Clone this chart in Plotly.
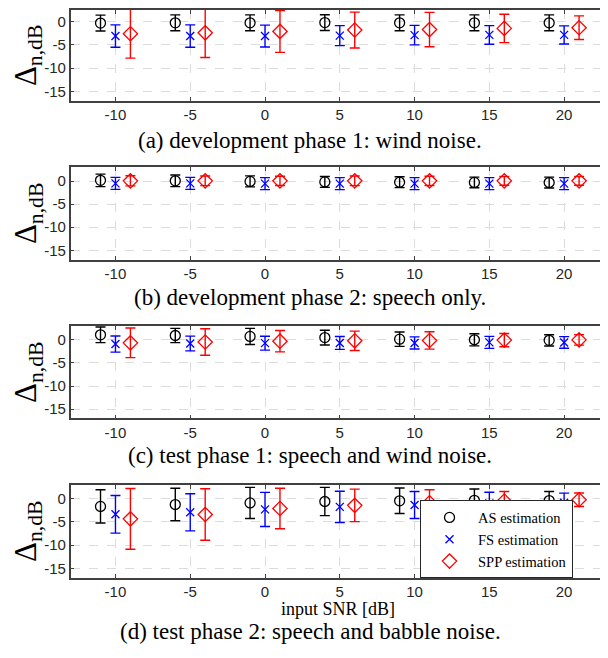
import plotly.graph_objects as go

# ---------------- data ----------------
snr = [-10, -5, 0, 5, 10, 15, 20]
x_tick_labels = ["-10", "-5", "0", "5", "10", "15", "20"]
y_tick_vals = [-15, -10, -5, 0]
y_tick_labels = ["-15", "-10", "-5", "0"]

series_names = ["AS estimation", "FS estimation", "SPP estimation"]
captions = [
    "(a) development phase 1: wind noise.",
    "(b) development phase 2: speech only.",
    "(c) test phase 1: speech and wind noise.",
    "(d) test phase 2: speech and babble noise.",
]

# panel (a)
a_as_mean = [-0.3, -0.25, -0.25, -0.2, -0.25, -0.25, -0.25]
a_as_std = [1.7, 1.7, 1.7, 1.7, 1.7, 1.7, 1.7]
a_fs_mean = [-3.1, -3.1, -3.1, -3.0, -2.9, -2.85, -2.85]
a_fs_std = [2.4, 2.4, 2.35, 2.15, 2.1, 2.0, 1.95]
a_spp_mean = [-2.6, -2.4, -2.1, -1.8, -1.7, -1.45, -1.3]
a_spp_std = [5.25, 5.3, 4.5, 3.85, 3.7, 3.05, 2.55]

# panel (b)
b_as_mean = [0.15, 0.05, -0.07, -0.18, -0.25, -0.3, -0.32]
b_as_std = [1.35, 1.25, 1.2, 1.18, 1.18, 1.15, 1.18]
b_fs_mean = [-0.5, -0.5, -0.55, -0.55, -0.55, -0.55, -0.55]
b_fs_std = [1.3, 1.3, 1.3, 1.3, 1.3, 1.3, 1.3]
b_spp_mean = [0.05, 0.05, 0.05, 0.05, 0.05, 0.05, 0.05]
b_spp_std = [1.1, 1.05, 1.0, 1.05, 1.0, 0.95, 0.95]

# panel (c)
c_as_mean = [1.1, 0.95, 0.75, 0.5, 0.15, 0.02, -0.1]
c_as_std = [1.7, 1.55, 1.75, 1.6, 1.55, 1.32, 1.21]
c_fs_mean = [-0.9, -0.78, -0.71, -0.66, -0.66, -0.54, -0.55]
c_fs_std = [1.75, 1.6, 1.5, 1.39, 1.32, 1.29, 1.25]
c_spp_mean = [-0.64, -0.45, -0.28, -0.2, -0.12, -0.05, 0.0]
c_spp_std = [3.2, 2.86, 2.32, 2.1, 1.89, 1.43, 1.14]

# panel (d)
d_as_mean = [-1.65, -1.25, -0.9, -0.6, -0.45, -0.35, -0.4]
d_as_std = [3.6, 3.5, 3.35, 3.05, 2.75, 2.45, 1.95]
d_fs_mean = [-3.36, -2.93, -2.3, -1.75, -1.35, -1.0, -0.86]
d_fs_std = [4.05, 4.0, 3.68, 3.36, 2.9, 2.4, 2.07]
d_spp_mean = [-4.34, -3.4, -2.1, -1.43, -0.86, -0.5, -0.22]
d_spp_std = [6.55, 5.57, 4.36, 3.5, 2.8, 2.07, 1.46]

panels = [
    [(a_as_mean, a_as_std), (a_fs_mean, a_fs_std), (a_spp_mean, a_spp_std)],
    [(b_as_mean, b_as_std), (b_fs_mean, b_fs_std), (b_spp_mean, b_spp_std)],
    [(c_as_mean, c_as_std), (c_fs_mean, c_fs_std), (c_spp_mean, c_spp_std)],
    [(d_as_mean, d_as_std), (d_fs_mean, d_fs_std), (d_spp_mean, d_spp_std)],
]

# ---------------- styling ----------------
OFF = 8  # page body margin of the exported html
W, H = 608 - OFF, 658 - OFF
colors = ["#000000", "#0000ff", "#ff0000"]
symbols = ["circle-open", "x-thin-open", "diamond-open"]
msizes = [10, 8, 11]
x_offsets = [-1, 0, 1]

# panel pixel boxes in the page (top, bottom)
panel_px = [(5.7, 99.0), (165.7, 258.3), (325.0, 417.7), (484.3, 577.3)]
caption_y = [139, 296, 455, 631]
x_left_px, x_right_px = 70.7, 607.0
y_lo, y_hi = -17, 3


def px_x(v):
    return (v - OFF) / W


def px_y(v):
    return 1 - (v - OFF) / H


serif = "Liberation Serif, Times New Roman, serif"
sans = "Liberation Sans, Arial, Helvetica, sans-serif"
axis_col = "#404040"
grid_col = "#dcdcdc"

fig = go.Figure()

for p, series in enumerate(panels):
    xa = "x" if p == 0 else f"x{p+1}"
    ya = "y" if p == 0 else f"y{p+1}"
    for s, (mean, std) in enumerate(series):
        fig.add_trace(go.Scatter(
            x=[v + x_offsets[s] for v in snr],
            y=mean,
            mode="markers",
            name=series_names[s],
            showlegend=(p == 3),
            marker=dict(symbol=symbols[s], size=msizes[s], color=colors[s],
                        line=dict(color=colors[s], width=1.3)),
            error_y=dict(type="data", array=std, visible=True,
                         color=colors[s], thickness=1.4, width=5),
            xaxis=xa, yaxis=ya,
        ))

layout = dict(
    width=W, height=H,
    margin=dict(l=0, r=0, t=0, b=0),
    paper_bgcolor="white", plot_bgcolor="white",
    showlegend=True,
    legend=dict(
        x=px_x(420.7), y=px_y(500), xanchor="left", yanchor="top",
        bgcolor="white", bordercolor="#262626", borderwidth=1,
        font=dict(family=serif, size=14.5, color="#000000"),
        itemwidth=47, tracegroupgap=0,
    ),
)

annotations = []
for p in range(4):
    top, bot = panel_px[p]
    hi = y_hi
    if top < OFF:  # clip to the visible page, keep the data scale
        per_px = (y_hi - y_lo) / (bot - top)
        hi = y_hi - (OFF - top) * per_px
        top = OFF
    xkey = "xaxis" if p == 0 else f"xaxis{p+1}"
    ykey = "yaxis" if p == 0 else f"yaxis{p+1}"
    anchor_x = "x" if p == 0 else f"x{p+1}"
    anchor_y = "y" if p == 0 else f"y{p+1}"
    layout[xkey] = dict(
        domain=[px_x(x_left_px), px_x(x_right_px)],
        range=[-13, 22.8],
        anchor=anchor_y,
        tickvals=snr, ticktext=x_tick_labels,
        tickfont=dict(family=sans, size=15, color="#262626"),
        ticks="inside", ticklen=4, tickcolor=axis_col,
        showline=True, linecolor=axis_col, linewidth=1.5, mirror="ticks",
        showgrid=True, gridcolor=grid_col, griddash="dash", gridwidth=1,
        zeroline=False,
    )
    layout[ykey] = dict(
        domain=[max(0.0, px_y(bot)), min(1.0, px_y(top))],
        range=[y_lo, hi],
        anchor=anchor_x,
        tickvals=y_tick_vals, ticktext=y_tick_labels,
        tickfont=dict(family=sans, size=15, color="#262626"),
        ticks="inside", ticklen=4, tickcolor=axis_col,
        showline=True, linecolor=axis_col, linewidth=1.5, mirror="ticks",
        showgrid=True, gridcolor=grid_col, griddash="dash", gridwidth=1,
        zeroline=False,
        title=dict(text="Δ<sub>n,dB</sub>", font=dict(family=serif, size=31, color="#000000"),
                   standoff=12),
    )
    annotations.append(dict(
        text=captions[p], x=px_x(311), y=px_y(caption_y[p]),
        xref="paper", yref="paper", xanchor="center", yanchor="middle",
        showarrow=False, font=dict(family=serif, size=23, color="#000000"),
    ))

annotations.append(dict(
    text="input SNR [dB]", x=px_x(338.5), y=px_y(609),
    xref="paper", yref="paper", xanchor="center", yanchor="middle",
    showarrow=False, font=dict(family=serif, size=18, color="#000000"),
))
layout["annotations"] = annotations

fig.update_layout(**layout)
fig.write_html("out.html")
